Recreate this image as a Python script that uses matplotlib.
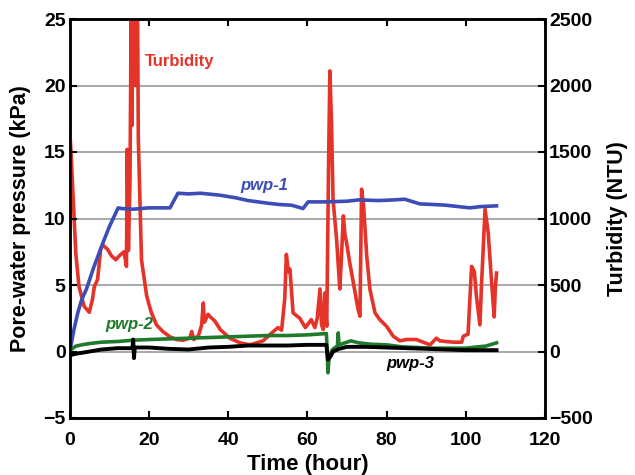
import matplotlib
matplotlib.use("Agg")
import matplotlib.pyplot as plt

plt.rcParams['font.family'] = ['Liberation Sans', 'DejaVu Sans']
plt.rcParams['font.weight'] = 'bold'

# Turbidity (NTU)
turb_t = [0, 0.3, 0.7, 1.5, 2.3, 3.6, 4.9, 5.7, 6.2, 7.0, 7.8, 8.3, 9.5, 10.5, 11.6, 12.5, 13.7,
          14.3, 14.5, 14.8, 15.2, 15.5, 15.7, 15.9, 16.1, 16.3, 16.5, 16.7, 16.9, 17.1, 17.3,
          18.1, 19.4, 20.5, 21.9,
          23.5, 25.3, 27, 28.6, 30.3, 30.8, 31.3, 32.5, 33.3, 33.7, 34.0, 34.9, 35.5, 36.6, 38,
          40.4, 43, 45.5, 48.8, 51.4, 52.6, 53.5, 54.3, 54.7, 55.2, 55.6, 56.4, 58.1, 59.5, 61,
          61.9, 62.5, 63.2, 63.6, 64.0, 64.4, 64.9, 65.4, 65.7, 66.1, 66.5, 67.4, 68.2, 68.6,
          69.1, 69.5, 69.9, 70.7, 71.6, 72.8, 73.3, 73.7, 74.2, 75, 75.8, 77.1, 78.3, 80, 81.7,
          83.4, 85, 87.6, 88.4, 91, 92.6, 93.5, 95, 97, 99, 99.4, 100.6, 101.5, 102.2, 102.7,
          103.6, 104.0, 104.9, 105.7, 106.6, 107.2, 107.5, 107.8]
turb_v = [1650, 1500, 1240, 740, 490, 340, 295, 390, 490, 540, 770, 800, 770, 720, 690, 720, 750,
          640, 1520, 760, 1300, 2600, 1700, 2600, 2200, 2600, 2000, 2600, 2300, 2600, 1600,
          690, 420, 300, 200,
          150, 110, 90, 85, 100, 150, 90, 120, 200, 365, 220, 280, 260, 230, 165,
          100, 65, 50, 80, 150, 180, 160, 400, 730, 600, 620, 290, 250, 180, 240,
          180, 250, 470, 200, 165, 440, 190, 1500, 2110, 1720, 1140, 840, 470, 700,
          1020, 880, 820, 670, 520, 320, 265, 1220, 1100, 720, 470, 290, 240, 190, 115,
          80, 90, 90, 80, 50, 100, 80, 75, 70, 70, 115, 130, 640, 600, 420,
          200, 500, 1070, 890, 500, 260, 480, 590]

# pwp-1 (kPa)
p1_t = [0, 1, 2, 3, 4.2, 6, 8.4, 10, 12.2, 13, 16, 20, 25.3, 27.3, 30, 33, 38, 42, 45, 50, 53,
        56, 58.9, 60.2, 65, 70, 73, 78, 82, 84.6, 88.4, 92, 95, 98, 101, 104, 107.8]
p1_v = [0, 1.6, 2.9, 3.9, 4.7, 6.3, 8.2, 9.4, 10.8, 10.75, 10.7, 10.8, 10.8, 11.9, 11.85, 11.9,
        11.75, 11.55, 11.35, 11.15, 11.05, 11.0, 10.75, 11.25, 11.25, 11.3, 11.4, 11.35, 11.4,
        11.45, 11.1, 11.05, 11.0, 10.9, 10.8, 10.9, 10.95]

# pwp-2 (kPa)
p2_t = [0, 0.5, 1.5, 3, 5, 8, 12, 16, 20, 25, 30, 35, 40, 45, 50, 55, 60, 64.8, 65.0, 65.2,
        65.5, 66.2, 67.0, 67.6, 67.8, 68.0, 69, 71, 73, 76, 80, 84, 88, 92, 96, 100, 103, 105, 107.8]
p2_v = [0.0, 0.2, 0.4, 0.5, 0.6, 0.7, 0.75, 0.85, 0.9, 0.95, 1.0, 1.05, 1.1, 1.15, 1.2, 1.2, 1.25,
        1.35, 0.2, -1.6, -0.4, 0.1, 0.3, 0.4, 1.4, 0.5, 0.6, 0.8, 0.65, 0.55, 0.5, 0.35, 0.3,
        0.25, 0.25, 0.25, 0.35, 0.4, 0.65]

# pwp-3 (kPa)
p3_t = [0, 1, 3, 5, 8, 12, 15.8, 16.0, 16.2, 16.4, 20, 25, 30, 35, 40, 45, 50, 55, 60, 64.8,
        65.2, 65.8, 66.5, 68, 70, 75, 80, 85, 90, 95, 100, 105, 107.8]
p3_v = [-0.3, -0.2, -0.1, 0.0, 0.15, 0.25, 0.25, 0.9, -0.5, 0.3, 0.3, 0.2, 0.15, 0.3, 0.35, 0.45,
        0.45, 0.45, 0.5, 0.5, -0.6, -0.4, 0.0, 0.2, 0.35, 0.35, 0.3, 0.25, 0.2, 0.15, 0.1, 0.1, 0.1]

left_ticks = [-5, 0, 5, 10, 15, 20, 25]
right_ticks = [-500, 0, 500, 1000, 1500, 2000, 2500]
x_ticks = [0, 20, 40, 60, 80, 100, 120]

RED = '#e5332a'
BLUE = '#3d4db7'
GREEN = '#1f7a2c'

fig = plt.figure(figsize=(6.35, 4.75), dpi=100)
ax = fig.add_axes([0.110, 0.120, 0.748, 0.840])
ax2 = ax.twinx()

# turbidity on the right axis, drawn beneath the pressure lines
ax2.plot(turb_t, turb_v, color=RED, lw=2.6, zorder=3)
ax2.set_ylim(-500, 2500)
ax2.set_yticks(right_ticks)
ax2.grid(axis='y', color='#9a9a9a', lw=1.2, zorder=0)
ax2.set_axisbelow(True)

ax.set_zorder(ax2.get_zorder() + 1)
ax.patch.set_visible(False)

ax.plot(p1_t, p1_v, color=BLUE, lw=2.6)
ax.plot(p2_t, p2_v, color=GREEN, lw=2.6)
ax.plot(p3_t, p3_v, color='black', lw=2.8)

ax.set_xlim(0, 120)
ax.set_ylim(-5, 25)
ax.set_xticks(x_ticks)
ax.set_yticks(left_ticks)

ax.set_xlabel('Time (hour)', fontsize=16, fontweight='bold', labelpad=4)
ax.set_ylabel('Pore-water pressure (kPa)', fontsize=15.5, fontweight='bold', labelpad=9)
ax2.set_ylabel('Turbidity (NTU)', fontsize=15.5, fontweight='bold', labelpad=10)

ax.tick_params(axis='both', direction='in', labelsize=14, width=1.5, length=5, top=True)
ax.tick_params(axis='x', pad=10)
ax.tick_params(axis='y', right=False, pad=3)
ax2.tick_params(axis='y', direction='in', labelsize=14, width=1.5, length=5, pad=3)
for a in (ax, ax2):
    for s in a.spines.values():
        s.set_linewidth(1.8)
    for lab in a.get_xticklabels() + a.get_yticklabels():
        lab.set_fontweight('bold')

ax.text(19, 21.8, 'Turbidity', color=RED, fontsize=12, fontweight='bold', va='center', ha='left')
ax.text(49, 12.5, 'pwp-1', color=BLUE, fontsize=12, fontweight='bold', style='italic',
        va='center', ha='center')
ax.text(15, 2.0, 'pwp-2', color=GREEN, fontsize=12, fontweight='bold', style='italic',
        va='center', ha='center')
ax.text(86, -0.9, 'pwp-3', color='black', fontsize=12, fontweight='bold', style='italic',
        va='center', ha='center')

fig.savefig('out.png', dpi=100)
